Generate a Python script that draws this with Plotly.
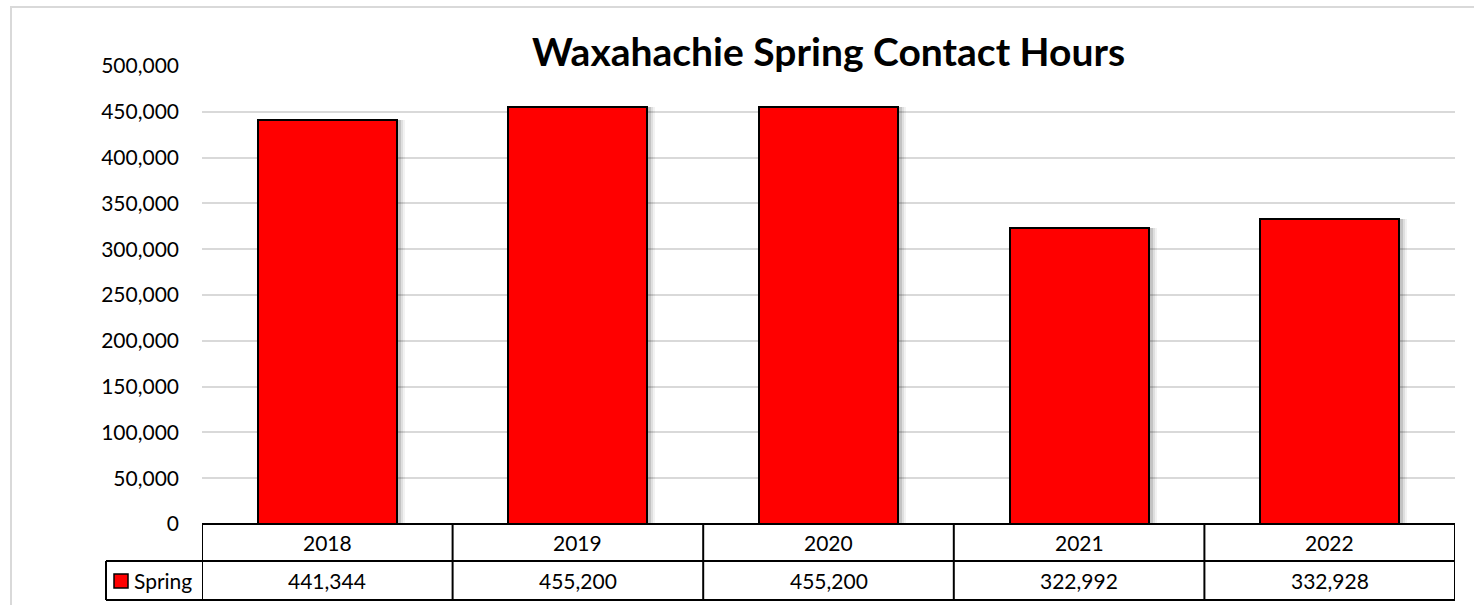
import plotly.graph_objects as go

years = ["2018", "2019", "2020", "2021", "2022"]
spring = [441344, 455200, 455200, 322992, 332928]
series_name = "Spring"
title = "Waxahachie Spring Contact Hours"
y_ticks = [0, 50000, 100000, 150000, 200000, 250000, 300000, 350000, 400000, 450000, 500000]

W, H = 1474, 605
L, R, T, B = 202, 19, 66, 81
pw = W - L - R
ph = H - T - B
FONT = "Lato"

def px_x(px):
    return (px - L) / pw

def px_y(py):
    return (H - B - py) / ph

bar_w = 0.555
cat_px = pw / len(years)
fig = go.Figure()

# soft drop shadow layers
for dx, op in [(8, 0.05), (6, 0.08), (4, 0.12)]:
    fig.add_trace(go.Bar(
        x=list(range(len(years))), y=spring, width=bar_w,
        offset=-bar_w / 2 + dx / cat_px,
        marker=dict(color=f"rgba(0,0,0,{op})", line=dict(width=0)),
        showlegend=False, hoverinfo="skip"))

fig.add_trace(go.Bar(
    x=list(range(len(years))), y=spring, width=bar_w, offset=-bar_w / 2,
    name=series_name,
    marker=dict(color="#ff0000", line=dict(color="#000000", width=2)),
    showlegend=False))

shapes = []
# outer light frame
shapes.append(dict(type="rect", xref="paper", yref="paper",
                   x0=px_x(11), x1=px_x(1480), y0=px_y(615), y1=px_y(7),
                   line=dict(color="#d9d9d9", width=2), fillcolor="rgba(0,0,0,0)", layer="below"))

row1_b = 561
row2_b = 600
tbl_l = 202
tbl_r = 1455
leg_l = 106
blk = dict(color="#000000", width=2)
shapes.append(dict(type="line", xref="paper", yref="paper", x0=px_x(tbl_l), x1=px_x(tbl_r),
                   y0=px_y(524), y1=px_y(524), line=blk))
shapes.append(dict(type="line", xref="paper", yref="paper", x0=px_x(leg_l), x1=px_x(tbl_r),
                   y0=px_y(row1_b), y1=px_y(row1_b), line=blk))
shapes.append(dict(type="line", xref="paper", yref="paper", x0=px_x(leg_l), x1=px_x(tbl_r),
                   y0=px_y(row2_b), y1=px_y(row2_b), line=blk))
shapes.append(dict(type="line", xref="paper", yref="paper", x0=px_x(leg_l), x1=px_x(leg_l),
                   y0=px_y(row1_b), y1=px_y(row2_b), line=blk))
for i in range(len(years) + 1):
    xb = i - 0.5
    shapes.append(dict(type="line", xref="x", yref="paper", x0=xb, x1=xb,
                       y0=px_y(524), y1=px_y(row2_b), line=blk))
# legend swatch
shapes.append(dict(type="rect", xref="paper", yref="paper", x0=px_x(114), x1=px_x(128),
                   y0=px_y(588), y1=px_y(574), fillcolor="#ff0000", line=dict(color="#000000", width=1.5)))

cell_font = dict(family=FONT, size=21, color="#000000")
annotations = []
for i, (yr, v) in enumerate(zip(years, spring)):
    annotations.append(dict(x=i, y=px_y((524 + row1_b) / 2), xref="x", yref="paper", text=yr,
                            showarrow=False, xanchor="center", yanchor="middle", font=cell_font))
    annotations.append(dict(x=i, y=px_y((row1_b + row2_b) / 2), xref="x", yref="paper",
                            text=f"{v:,}", showarrow=False, xanchor="center", yanchor="middle",
                            font=cell_font))
annotations.append(dict(x=px_x(132), y=px_y((row1_b + row2_b) / 2), xref="paper", yref="paper",
                        text=series_name, showarrow=False, xanchor="left", yanchor="middle",
                        font=cell_font))
annotations.append(dict(x=0.5, y=px_y(51), xref="paper", yref="paper", text=f"<b>{title}</b>",
                        showarrow=False, xanchor="center", yanchor="middle",
                        font=dict(family=FONT, size=39, color="#000000")))

fig.update_layout(
    width=W, height=H,
    margin=dict(l=L, r=R, t=T, b=B, pad=0),
    paper_bgcolor="#ffffff", plot_bgcolor="#ffffff",
    barmode="overlay", bargap=0,
    shapes=shapes, annotations=annotations,
    xaxis=dict(range=[-0.5, len(years) - 0.5], showticklabels=False, showgrid=False,
               zeroline=False, showline=False, fixedrange=True),
    yaxis=dict(range=[0, 500000], tickvals=y_ticks, tickformat=",d", showgrid=True,
               gridcolor="#d9d9d9", gridwidth=1.5, zeroline=False, showline=False,
               ticks="", ticklabelstandoff=22,
               tickfont=dict(family=FONT, size=21, color="#000000")),
)

fig.write_html("out.html", config={"displayModeBar": False},
               post_script="document.body.style.margin='0';document.body.style.overflow='hidden';")
